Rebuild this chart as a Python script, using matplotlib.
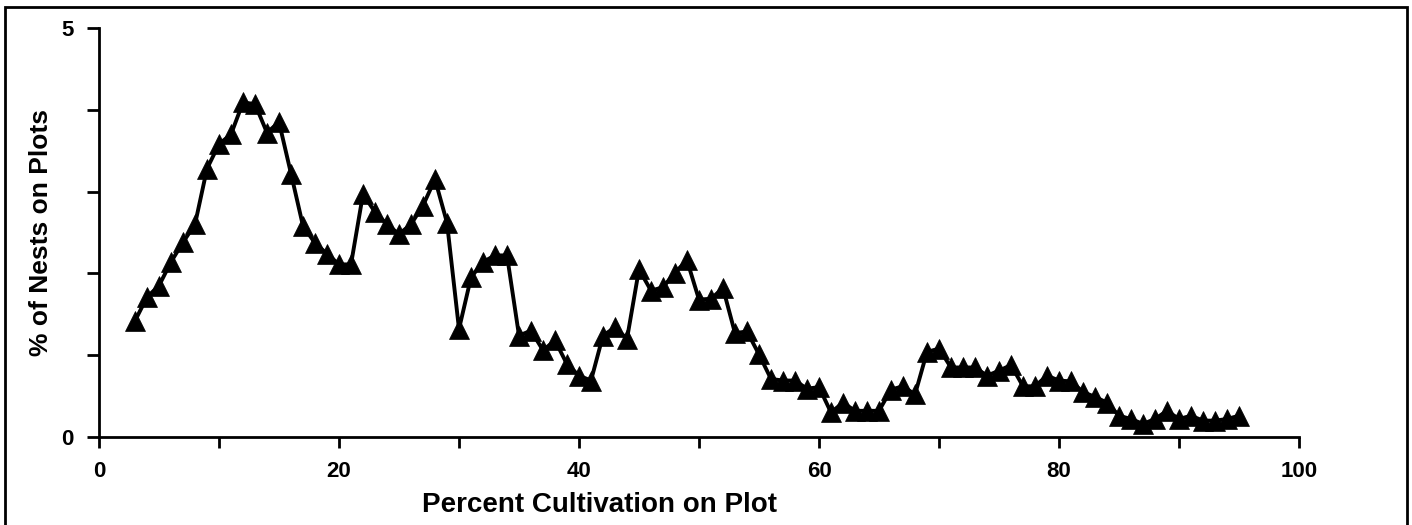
import numpy as np
import matplotlib.pyplot as plt
from matplotlib.patches import Rectangle
from matplotlib.ticker import MultipleLocator

plt.rcParams['font.family'] = ['Liberation Sans', 'DejaVu Sans']

# percent cultivation (x) and % of nests (y)
pct_cult = list(range(3, 96))
pct_nests = [
    1.42, 1.71, 1.85, 2.14, 2.38, 2.60, 3.28, 3.58, 3.70, 4.09,   # 3-12
    4.07, 3.72, 3.85, 3.22, 2.58, 2.37, 2.24, 2.11, 2.11, 2.97,   # 13-22
    2.75, 2.60, 2.48, 2.60, 2.83, 3.15, 2.62, 1.32, 1.95, 2.14,   # 23-32
    2.22, 2.22, 1.24, 1.30, 1.06, 1.18, 0.89, 0.75, 0.69, 1.24,   # 33-42
    1.34, 1.20, 2.05, 1.79, 1.83, 2.01, 2.16, 1.68, 1.69, 1.82,   # 43-52
    1.27, 1.29, 1.01, 0.71, 0.69, 0.69, 0.59, 0.61, 0.30, 0.42,   # 53-62
    0.32, 0.32, 0.32, 0.58, 0.62, 0.52, 1.04, 1.08, 0.85, 0.85,   # 63-72
    0.85, 0.75, 0.81, 0.88, 0.62, 0.62, 0.75, 0.69, 0.68, 0.55,   # 73-82
    0.49, 0.42, 0.26, 0.22, 0.16, 0.22, 0.32, 0.22, 0.26, 0.20,   # 83-92
    0.20, 0.22, 0.26,                                             # 93-95
]

fig = plt.figure(figsize=(14.12, 5.25), dpi=100)
ax = fig.add_axes([99 / 1412, 88 / 525, 1200 / 1412, 409 / 525])

ax.plot(pct_cult, pct_nests, color='black', lw=2.8, marker='^', ms=15,
        mfc='black', mec='black', mew=0.5, clip_on=False)

ax.set_xlim(0, 100)
ax.set_ylim(0, 5)
ax.set_xticks([0, 20, 40, 60, 80, 100])
ax.xaxis.set_minor_locator(MultipleLocator(10))
ax.set_yticks([0, 1, 2, 3, 4, 5])
ax.set_yticklabels(['0', '', '', '', '', '5'])

for side in ('top', 'right'):
    ax.spines[side].set_visible(False)
for side in ('left', 'bottom'):
    ax.spines[side].set_linewidth(2)

ax.tick_params(axis='both', which='both', direction='out', length=8, width=2)
ax.tick_params(axis='y', length=9)
ax.tick_params(axis='both', labelsize=16, pad=9)
for lbl in ax.get_xticklabels() + ax.get_yticklabels():
    lbl.set_fontweight('bold')

ax.set_xlabel('Percent Cultivation on Plot', fontsize=20, fontweight='bold')
ax.xaxis.set_label_coords(0.4175, -0.135)
ax.set_ylabel('% of Nests on Plots', fontsize=19, fontweight='bold')
ax.yaxis.set_label_coords(-0.038, 0.5)

# outer frame round the whole chart
fig.patches.append(Rectangle((5 / 1412, -0.01), 1402 / 1412, 1 - 7 / 525 + 0.01,
                             transform=fig.transFigure, fill=False,
                             lw=2, ec='black'))

fig.savefig('out.png', dpi=100)
